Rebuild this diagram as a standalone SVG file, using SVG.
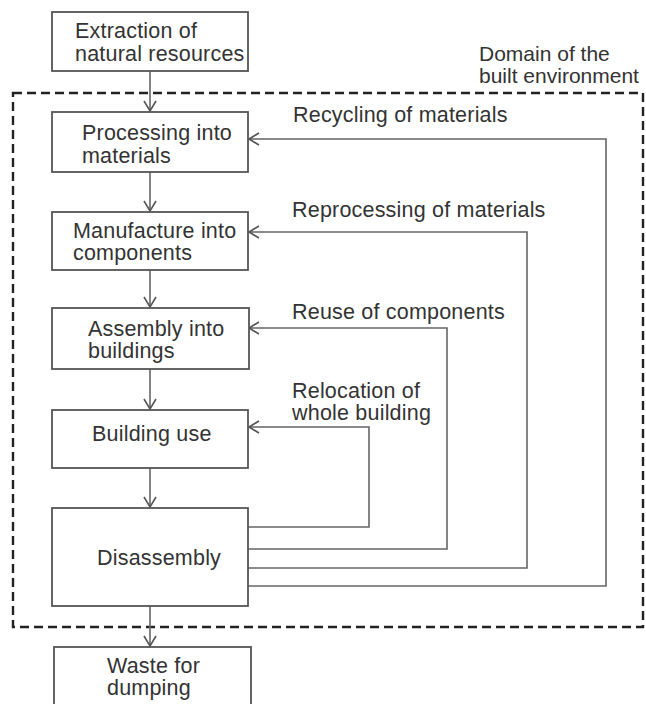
<svg xmlns="http://www.w3.org/2000/svg" width="646" height="704" viewBox="0 0 646 704">
<style>
.box{fill:#fff;stroke:#555;stroke-width:1.8}
.t{font-family:"Liberation Sans",Arial,sans-serif;font-size:21.5px;letter-spacing:0.2px;fill:#333}
.c{fill:none;stroke:#666;stroke-width:1.6}
.dom{fill:none;stroke:#222;stroke-width:2.4;stroke-dasharray:9 5}
</style>
<defs>
<marker id="ah" markerUnits="userSpaceOnUse" markerWidth="14" markerHeight="14" viewBox="-12 -7 14 14" refX="0" refY="0" orient="auto">
<path d="M-10,-6 L0,0 L-10,6" fill="none" stroke="#555" stroke-width="1.6"/>
</marker>
</defs>
<rect width="646" height="704" fill="#fff"/>
<g id="domain">
<rect class="dom" x="13" y="93" width="630" height="534"/>
<text class="t" x="479" y="61" style="font-size:21px;letter-spacing:0">Domain of the</text>
<text class="t" x="479" y="83" style="font-size:21px;letter-spacing:0">built environment</text>
</g>
<g id="connectors">
<line class="c" x1="150" y1="71" x2="150" y2="111" marker-end="url(#ah)"/>
<line class="c" x1="150" y1="172" x2="150" y2="211" marker-end="url(#ah)"/>
<line class="c" x1="150" y1="270" x2="150" y2="307" marker-end="url(#ah)"/>
<line class="c" x1="150" y1="369" x2="150" y2="409" marker-end="url(#ah)"/>
<line class="c" x1="150" y1="468" x2="150" y2="507" marker-end="url(#ah)"/>
<line class="c" x1="150" y1="606" x2="150" y2="646" marker-end="url(#ah)"/>
<polyline class="c" points="248,586 606,586 606,139 249,139" marker-end="url(#ah)"/>
<polyline class="c" points="248,568 527,568 527,232 249,232" marker-end="url(#ah)"/>
<polyline class="c" points="248,549 447,549 447,328 249,328" marker-end="url(#ah)"/>
<polyline class="c" points="248,527 369,527 369,427 249,427" marker-end="url(#ah)"/>
<text class="t" x="293" y="122">Recycling of materials</text>
<text class="t" x="292" y="217">Reprocessing of materials</text>
<text class="t" x="292" y="319">Reuse of components</text>
<text class="t" x="292" y="398">Relocation of</text>
<text class="t" x="292" y="420">whole building</text>
</g>
<g id="extraction">
<rect class="box" x="52" y="12" width="196" height="59"/>
<text class="t" x="75" y="38">Extraction of</text>
<text class="t" x="75" y="61">natural resources</text>
</g>
<g id="processing">
<rect class="box" x="52" y="112" width="196" height="60"/>
<text class="t" x="82" y="140">Processing into</text>
<text class="t" x="82" y="163">materials</text>
</g>
<g id="manufacture">
<rect class="box" x="52" y="212" width="196" height="58"/>
<text class="t" x="73" y="238">Manufacture into</text>
<text class="t" x="73" y="260">components</text>
</g>
<g id="assembly">
<rect class="box" x="52" y="308" width="197" height="61"/>
<text class="t" x="88" y="336">Assembly into</text>
<text class="t" x="88" y="358">buildings</text>
</g>
<g id="use">
<rect class="box" x="52" y="410" width="196" height="58"/>
<text class="t" x="92" y="441">Building use</text>
</g>
<g id="disassembly">
<rect class="box" x="52" y="508" width="196" height="98"/>
<text class="t" x="97" y="565">Disassembly</text>
</g>
<g id="waste">
<rect class="box" x="54" y="647" width="197" height="70"/>
<text class="t" x="107" y="673">Waste for</text>
<text class="t" x="107" y="695">dumping</text>
</g>
</svg>
